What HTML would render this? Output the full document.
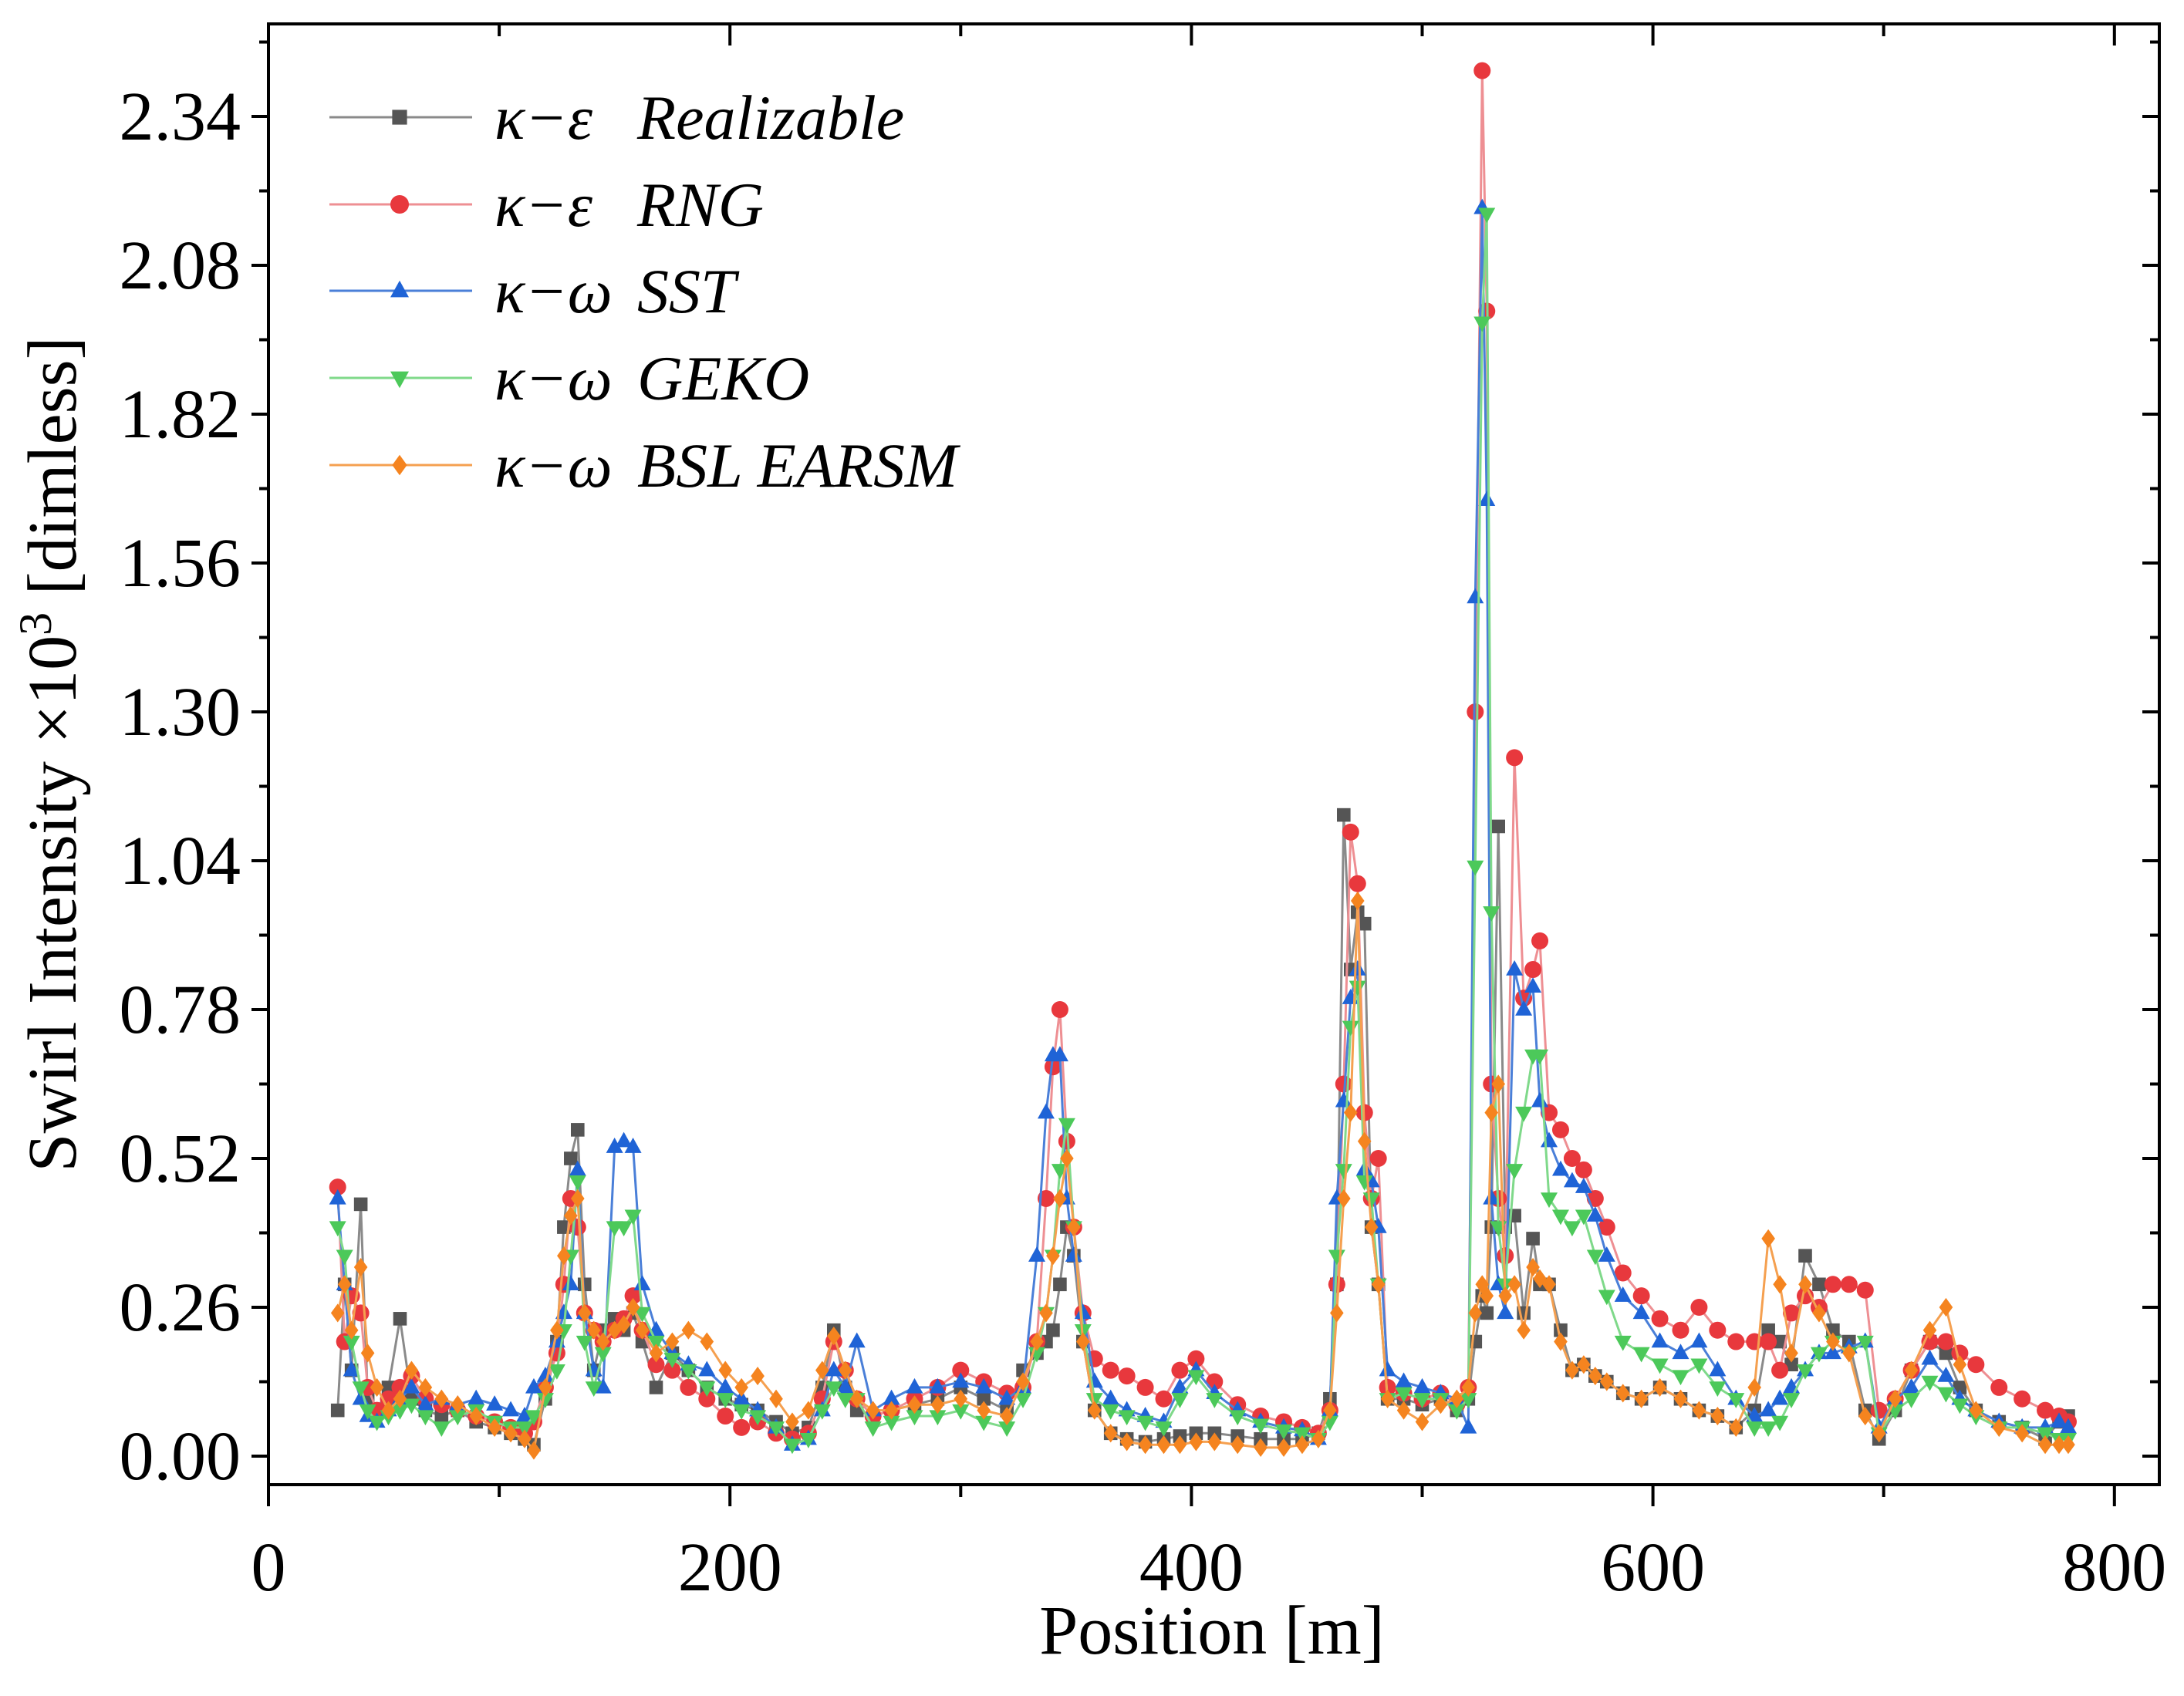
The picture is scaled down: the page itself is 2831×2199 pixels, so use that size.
<!DOCTYPE html>
<html><head><meta charset="utf-8"><style>
html,body{margin:0;padding:0;background:#fff;}
svg{display:block;font-family:"Liberation Serif",serif;}
</style></head><body>
<svg id="chart" width="2831" height="2199" viewBox="0 0 2831 2199" xmlns="http://www.w3.org/2000/svg">
<g id="series-layer"></g>
<g id="axes-layer"></g>
<g id="legend"></g>
</svg>
<script>
const positions = [30,33,36,40,43,47,52,57,62,68,75,82,90,98,105,111,115,120,125,128,131,134,137,141,145,150,154,158,162,168,175,182,190,198,205,212,220,227,234,240,245,250,255,262,270,280,290,300,310,320,327,333,337,340,343,346,349,353,358,365,372,380,388,395,402,410,420,430,440,448,455,460,463,466,469,472,475,478,481,485,492,500,508,515,520,523,526,528,530,533,536,540,544,548,551,555,560,565,570,575,580,587,595,603,612,620,628,636,644,650,655,660,666,672,678,685,692,698,705,712,720,727,733,740,750,760,770,776,780];
const realizable = [.08,.30,.15,.44,.10,.08,.12,.24,.10,.08,.07,.08,.06,.05,.04,.03,.02,.10,.20,.40,.52,.57,.30,.15,.22,.24,.22,.25,.20,.12,.18,.15,.12,.10,.09,.08,.06,.04,.05,.12,.22,.12,.08,.07,.08,.09,.10,.12,.10,.08,.15,.18,.20,.22,.30,.40,.35,.20,.08,.04,.03,.025,.03,.035,.04,.04,.035,.03,.03,.03,.04,.10,.30,1.12,.85,.95,.93,.40,.30,.10,.10,.09,.10,.08,.10,.20,.28,.25,.40,1.10,.40,.42,.25,.38,.30,.30,.22,.15,.16,.14,.13,.11,.10,.12,.10,.08,.07,.05,.08,.22,.20,.16,.35,.30,.22,.20,.08,.03,.08,.15,.20,.18,.12,.08,.06,.05,.03,.06,.07];
const rng = [.47,.20,.28,.25,.12,.08,.10,.12,.14,.10,.09,.08,.07,.06,.05,.04,.06,.12,.18,.30,.45,.40,.25,.22,.20,.22,.24,.28,.22,.16,.15,.12,.10,.07,.05,.06,.04,.03,.04,.10,.20,.15,.10,.07,.08,.10,.12,.15,.13,.11,.12,.20,.45,.68,.78,.55,.40,.25,.17,.15,.14,.12,.10,.15,.17,.13,.09,.07,.06,.05,.04,.08,.30,.65,1.09,1.00,.60,.45,.52,.12,.11,.10,.11,.09,.12,1.30,2.42,2.00,.65,.45,.35,1.22,.80,.85,.90,.60,.57,.52,.50,.45,.40,.32,.28,.24,.22,.26,.22,.20,.20,.20,.15,.25,.28,.26,.30,.30,.29,.08,.10,.15,.20,.20,.18,.16,.12,.10,.08,.07,.06];
const sst = [.45,.30,.15,.10,.07,.06,.08,.10,.12,.09,.10,.09,.10,.09,.08,.07,.12,.14,.20,.25,.30,.50,.25,.15,.12,.54,.55,.54,.30,.22,.18,.16,.15,.12,.10,.08,.05,.02,.03,.08,.15,.12,.20,.08,.10,.12,.12,.13,.12,.10,.12,.35,.60,.70,.70,.45,.35,.25,.13,.10,.08,.07,.06,.12,.15,.11,.08,.06,.05,.045,.03,.08,.45,.62,.80,.85,.50,.48,.40,.15,.13,.12,.11,.10,.05,1.50,2.18,1.67,.45,.30,.25,.85,.78,.82,.62,.55,.50,.48,.47,.42,.35,.28,.25,.20,.18,.20,.15,.10,.07,.08,.10,.12,.15,.18,.18,.19,.20,.05,.10,.12,.17,.14,.10,.08,.06,.05,.05,.06,.05];
const geko = [.40,.35,.20,.12,.08,.06,.07,.08,.09,.07,.05,.07,.08,.06,.05,.05,.07,.10,.15,.22,.35,.48,.20,.12,.18,.40,.40,.42,.25,.20,.17,.15,.12,.10,.08,.07,.05,.02,.03,.08,.12,.10,.10,.05,.06,.07,.07,.08,.06,.05,.10,.18,.25,.35,.50,.58,.40,.22,.10,.08,.07,.06,.05,.10,.14,.10,.07,.055,.045,.04,.03,.06,.35,.50,.75,.82,.48,.45,.30,.10,.11,.10,.10,.08,.10,1.03,1.98,2.17,.95,.40,.30,.50,.60,.70,.70,.45,.42,.40,.42,.35,.28,.20,.18,.16,.14,.16,.12,.10,.05,.05,.06,.10,.15,.18,.20,.18,.20,.04,.08,.10,.13,.11,.09,.07,.05,.05,.04,.03,.03];
const bslEarsm = [.25,.30,.22,.33,.18,.12,.08,.10,.15,.12,.10,.09,.07,.05,.04,.03,.01,.12,.22,.35,.42,.45,.25,.22,.20,.22,.23,.26,.22,.18,.20,.22,.20,.15,.12,.14,.10,.06,.08,.15,.21,.15,.10,.08,.08,.09,.09,.10,.08,.07,.13,.20,.25,.35,.45,.52,.40,.20,.08,.04,.025,.02,.02,.02,.025,.025,.02,.015,.015,.02,.03,.08,.25,.45,.60,.97,.55,.40,.30,.10,.08,.06,.09,.10,.12,.25,.30,.28,.60,.65,.28,.30,.22,.33,.31,.30,.20,.15,.16,.14,.13,.11,.10,.12,.10,.08,.07,.05,.12,.38,.30,.18,.30,.25,.20,.18,.07,.04,.10,.15,.22,.26,.16,.08,.05,.04,.02,.02,.02];
const yTicks = [0,0.26,0.52,0.78,1.04,1.30,1.56,1.82,2.08,2.34];
const yTickLabels = ["0.00","0.26","0.52","0.78","1.04","1.30","1.56","1.82","2.08","2.34"];
const xTicks = [0,200,400,600,800];
const seriesNames = ["Realizable","RNG","SST","GEKO","BSL EARSM"];
const seriesPrefix = ["κ−ε","κ−ε","κ−ω","κ−ω","κ−ω"];

const NS="http://www.w3.org/2000/svg";
const L=348,R=2799,T=31,B=1925;
const X0=348,XPX=2.991; const Y0=1888,YPX=742.3;
function sx(v){return X0+v*XPX;}
function sy(v){return Y0-v*YPX;}
function mk(tag,attrs,parent){const e=document.createElementNS(NS,tag);for(const k in attrs)e.setAttribute(k,attrs[k]);parent.appendChild(e);return e;}

const styles=[
 {data:realizable,line:"#8a8a8a",fill:"#555555",shape:"square",key:"realizable"},
 {data:rng,line:"#ee8f93",fill:"#e8383d",shape:"circle",key:"rng"},
 {data:sst,line:"#4a7fd8",fill:"#1f63d6",shape:"up",key:"sst"},
 {data:geko,line:"#7fd98a",fill:"#4cc95a",shape:"down",key:"geko"},
 {data:bslEarsm,line:"#f5a050",fill:"#f5841f",shape:"diamond",key:"bsl-earsm"}
];
function marker(shape,x,y,fill,parent,s){
  let e;
  if(shape==="square"){e=mk("rect",{x:x-s*0.8,y:y-s*0.8,width:s*1.6,height:s*1.6,fill:fill},parent);}
  else if(shape==="circle"){e=mk("circle",{cx:x,cy:y,r:s,fill:fill},parent);}
  else if(shape==="up"){e=mk("polygon",{points:`${x},${y-s*1.1} ${x-s},${y+s*0.7} ${x+s},${y+s*0.7}`,fill:fill},parent);}
  else if(shape==="down"){e=mk("polygon",{points:`${x},${y+s*1.1} ${x-s},${y-s*0.7} ${x+s},${y-s*0.7}`,fill:fill},parent);}
  else {e=mk("polygon",{points:`${x},${y-s*1.1} ${x+s*0.8},${y} ${x},${y+s*1.1} ${x-s*0.8},${y}`,fill:fill},parent);}
  return e;
}
const sl=document.getElementById("series-layer");
styles.forEach(st=>{
  const g=mk("g",{},sl);
  
  
  const n=Math.min(positions.length,st.data.length);
  let d="";
  for(let i=0;i<n;i++){d+=(i?"L":"M")+sx(positions[i]).toFixed(1)+","+sy(st.data[i]).toFixed(1);}
  const p=mk("path",{d:d,fill:"none",stroke:st.line,"stroke-width":3},g);
  
  
  for(let i=0;i<n;i++){
    const m=marker(st.shape,sx(positions[i]),sy(st.data[i]),st.fill,g,11);
    
    
  }
});

const ax=document.getElementById("axes-layer");
const frame=mk("rect",{x:L,y:T,width:R-L,height:B-T,fill:"none",stroke:"#000","stroke-width":4},ax);


for(let v=0;v<=2.47;v+=0.13){
  const major=Math.round(v/0.13)%2===0; const y=sy(v); const len=major?22:12;
  mk("line",{x1:L-len,y1:y,x2:L,y2:y,stroke:"#000","stroke-width":4},ax);
  mk("line",{x1:R,y1:y,x2:R-len,y2:y,stroke:"#000","stroke-width":4},ax);
}
yTicks.forEach((v,i)=>{
  const t=mk("text",{x:L-36,y:sy(v)+30,"text-anchor":"end","font-size":90,fill:"#000"},ax);
  t.textContent=yTickLabels[i];
  
  
});
for(let v=0;v<=800;v+=100){
  const major=v%200===0; const x=sx(v); const len=major?28:16;
  mk("line",{x1:x,y1:B,x2:x,y2:B+len,stroke:"#000","stroke-width":4},ax);
  mk("line",{x1:x,y1:T,x2:x,y2:T+len,stroke:"#000","stroke-width":4},ax);
}
xTicks.forEach(v=>{
  const t=mk("text",{x:sx(v),y:2062,"text-anchor":"middle","font-size":90,fill:"#000"},ax);
  t.textContent=String(v);
  
  
});
const xt=mk("text",{x:1571,y:2144,"text-anchor":"middle","font-size":90,fill:"#000"},ax);
xt.textContent="Position [m]";


const yt=mk("text",{x:0,y:0,"text-anchor":"middle","font-size":90,fill:"#000",transform:"translate(98,978) rotate(-90)"},ax);
yt.innerHTML='Swirl Intensity ×10<tspan dy="-32" font-size="60">3</tspan><tspan dy="32"> [dimless]</tspan>';



const lg=document.getElementById("legend");
const rowsY=[152,265,377,490,603];
styles.forEach((st,i)=>{
  const g=mk("g",{},lg);
  
  
  const y=rowsY[i];
  mk("line",{x1:427,y1:y,x2:612,y2:y,stroke:st.line,"stroke-width":3},g);
  marker(st.shape,518,y,st.fill,g,12);
  const t1=mk("text",{x:641,y:y+28,"font-size":82,"font-style":"italic",fill:"#000"},g);
  t1.textContent=seriesPrefix[i];
  const t2=mk("text",{x:826,y:y+28,"font-size":82,"font-style":"italic",fill:"#000"},g);
  t2.textContent=seriesNames[i];
});
</script>
</body></html>
